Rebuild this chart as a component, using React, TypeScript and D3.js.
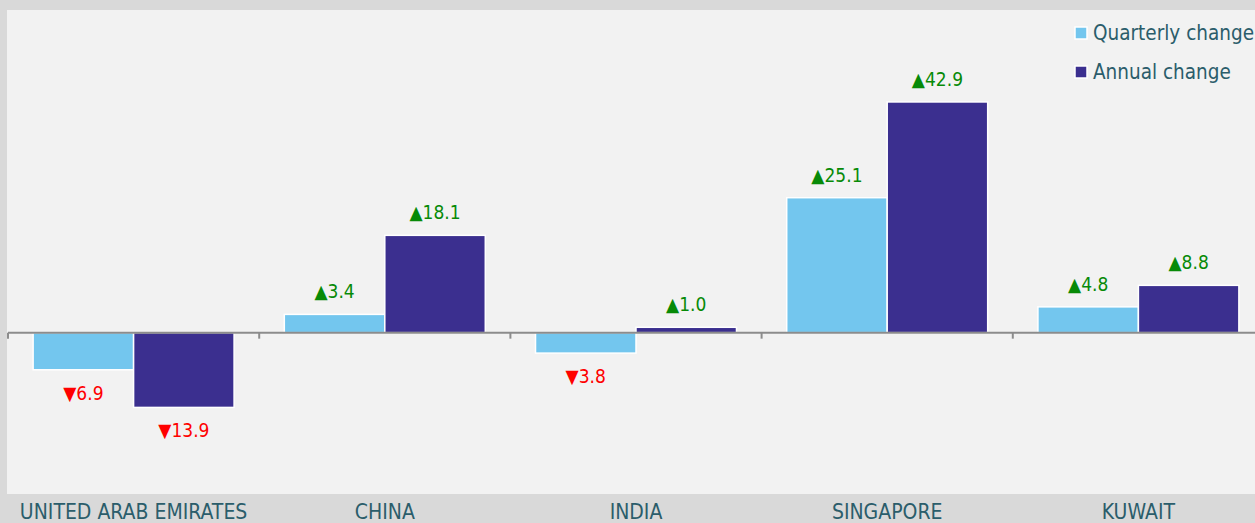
import React from "react";
import * as d3 from "d3";

const categories = ["UNITED ARAB EMIRATES", "CHINA", "INDIA", "SINGAPORE", "KUWAIT"];
const seriesNames = ["Quarterly change", "Annual change"];
const quarterly = [-6.9, 3.4, -3.8, 25.1, 4.8];
const annual = [-13.9, 18.1, 1.0, 42.9, 8.8];
const seriesColors = ["#73c6ee", "#3b2f8f"];

const W = 1255;
const H = 523;
const FONT = "'Liberation Sans Narrow', 'DejaVu Sans Condensed', 'Open Sans', sans-serif";
const TEXT_COLOR = "#2b5d6b";

export default function App() {
  const panel = { x: 7, y: 10, w: 1260, h: 484 };
  const x0 = d3.scaleBand<string>().domain(categories).range([8, 8 + 5 * 251.2]).paddingInner(0).paddingOuter(0);
  const x1 = d3.scaleBand<string>().domain(seriesNames).range([0, x0.bandwidth()]).paddingInner(0).paddingOuter(0.25);
  const y = d3.scaleLinear().domain([-30, 60]).range([panel.y + panel.h, panel.y]);
  const values = [quarterly, annual];
  const y0 = y(0);

  return (
    <div style={{ position: "absolute", left: 0, top: 0 }}>
      <svg width={W} height={H} style={{ display: "block", fontFamily: FONT }}>
        <rect x={0} y={0} width={W} height={H} fill="#d9d9d9" />
        <rect x={panel.x} y={panel.y} width={panel.w} height={panel.h} fill="#f2f2f2" />
        {categories.map((c, ci) =>
          seriesNames.map((s, si) => {
            const v = values[si][ci];
            const bx = (x0(c) as number) + (x1(s) as number);
            const bw = x1.bandwidth();
            const top = Math.min(y(v), y0);
            const h = Math.abs(y(v) - y0);
            const pos = v >= 0;
            return (
              <g key={c + s}>
                <rect x={bx} y={top} width={bw} height={h} fill={seriesColors[si]} stroke="#ffffff" strokeWidth={1.5} />
                <text
                  x={bx + bw / 2}
                  y={pos ? y(v) - 16 : y(v) + 30}
                  textAnchor="middle"
                  fontSize={19}
                  fill={pos ? "#078a07" : "#ff0000"}
                >
                  {(pos ? "▲" : "▼") + Math.abs(v).toFixed(1)}
                </text>
              </g>
            );
          })
        )}
        <line x1={8} x2={W} y1={y0} y2={y0} stroke="#8c8c8c" strokeWidth={2} />
        {categories.map((c) => (
          <line key={"t" + c} x1={x0(c)} x2={x0(c)} y1={y0} y2={y0 + 6} stroke="#8c8c8c" strokeWidth={2} />
        ))}
        {categories.map((c) => (
          <text
            key={"l" + c}
            x={(x0(c) as number) + x0.bandwidth() / 2}
            y={519}
            textAnchor="middle"
            fontSize={21}
            fill={TEXT_COLOR}
          >
            {c}
          </text>
        ))}
        {seriesNames.map((s, si) => (
          <g key={"lg" + s} transform={`translate(1075, ${27 + si * 39})`}>
            <rect x={0} y={0} width={12} height={12} fill={seriesColors[si]} stroke="#ffffff" strokeWidth={1.5} />
            <text x={18} y={13} fontSize={20.5} fill={TEXT_COLOR}>
              {s}
            </text>
          </g>
        ))}
      </svg>
    </div>
  );
}
